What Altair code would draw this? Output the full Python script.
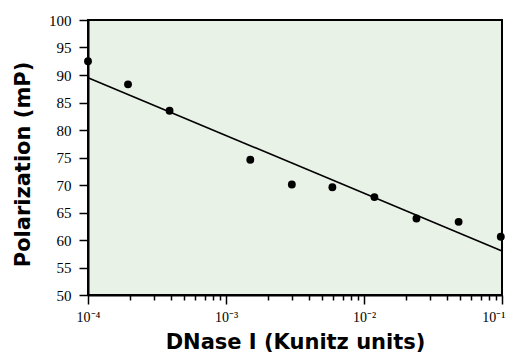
import altair as alt
import pandas as pd

# Measured data (DNase I units vs polarization)
dnase = [1.0e-4, 1.95e-4, 3.9e-4, 1.5e-3, 3.0e-3, 5.9e-3, 1.19e-2, 2.4e-2, 4.85e-2, 9.8e-2]
polar = [92.5, 88.3, 83.5, 74.6, 70.1, 69.6, 67.8, 63.9, 63.3, 60.6]

# Fitted line end points
fit_x = [1.0e-4, 1.0e-1]
fit_y = [89.5, 58.0]

# Axis ticks
x_major_values = [1e-4, 1e-3, 1e-2, 1e-1]
x_major_labels = ["10⁻⁴", "10⁻³", "10⁻²", "10⁻¹"]
x_minor_mult = [2, 3, 4, 5, 6, 7, 8, 9]
y_ticks = [50, 55, 60, 65, 70, 75, 80, 85, 90, 95, 100]

x_tick_values = list(x_major_values)
for d in x_major_values[:-1]:
    for k in x_minor_mult:
        x_tick_values.append(k * d)

major_test = "abs(log(datum.value)/LN10 - round(log(datum.value)/LN10)) < 1e-6"
last_test = f"abs(datum.value/{x_major_values[-1]} - 1) < 1e-6"
label_expr = "''"
for v, lab in reversed(list(zip(x_major_values, x_major_labels))):
    label_expr = f"abs(datum.value/{v} - 1) < 1e-6 ? '{lab}' : ({label_expr})"

pts = pd.DataFrame({"x": dnase, "y": polar})
fit = pd.DataFrame({"x": fit_x, "y": fit_y})

SERIF = "Liberation Serif, Times New Roman, Times, serif"

xscale = alt.Scale(type="log", domain=[1e-4, 1e-1], nice=False)
yscale = alt.Scale(domain=[50, 100], nice=False, zero=False)

xaxis = alt.Axis(
    values=x_tick_values,
    labelExpr=label_expr,
    title="DNase I (Kunitz units)",
    tickSize={"condition": {"test": major_test, "value": 9}, "value": 5},
    labelAlign={"condition": {"test": last_test, "value": "right"}, "value": "center"},
    labelOffset={"condition": {"test": last_test, "value": 3}, "value": 0},
    labelPadding=6,
    labelFont=SERIF,
    labelFontSize=14,
    labelColor="black",
    titleFont="DejaVu Sans",
    titleFontWeight="bold",
    titleFontSize=21,
    titleColor="black",
    titlePadding=7,
    grid=False,
    labelFlush=False,
    labelOverlap=False,
)
yaxis = alt.Axis(
    values=y_ticks,
    title="Polarization (mP)",
    tickSize=9,
    labelPadding=8,
    labelFont=SERIF,
    labelFontSize=15,
    labelColor="black",
    labelOverlap=False,
    titleFont="DejaVu Sans",
    titleFontWeight="bold",
    titleFontSize=21,
    titleColor="black",
    titleX=-55,
    titleY=144,
    grid=False,
    labelFlush=False,
)

points = alt.Chart(pts).mark_circle(size=62, color="black", opacity=1).encode(
    x=alt.X("x:Q", scale=xscale, axis=xaxis),
    y=alt.Y("y:Q", scale=yscale, axis=yaxis),
)
line = alt.Chart(fit).mark_line(color="black", strokeWidth=1.6).encode(
    x=alt.X("x:Q", scale=xscale, axis=xaxis),
    y=alt.Y("y:Q", scale=yscale, axis=yaxis),
)

chart = (
    alt.layer(line, points)
    .properties(
        width=414,
        height=275,
        autosize=alt.AutoSizeParams(type="none"),
        padding={"left": 80, "top": 12, "right": 4, "bottom": 62},
    )
    .configure_view(fill="#e9f2e6", stroke="black", strokeWidth=2)
    .configure_axis(domainColor="black", domainWidth=2, tickColor="black", tickWidth=1.5)
)

chart.save("out.html", embed_options={"renderer": "svg", "actions": False})
